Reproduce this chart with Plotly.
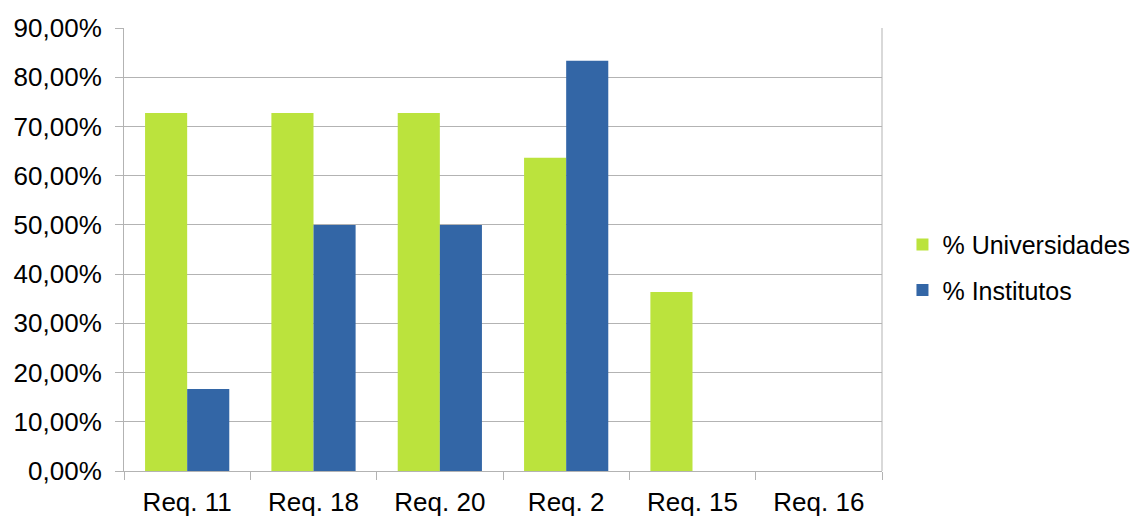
import plotly.graph_objects as go

categories = ["Req. 11", "Req. 18", "Req. 20", "Req. 2", "Req. 15", "Req. 16"]
universidades = [0.7273, 0.7273, 0.7273, 0.6364, 0.3636, 0.0]
institutos = [0.1667, 0.50, 0.50, 0.8333, 0.0, 0.0]

FONT = dict(family="Liberation Sans, Arial, sans-serif", size=26, color="#000000")
LEGFONT = dict(family="Liberation Sans, Arial, sans-serif", size=25, color="#000000")

fig = go.Figure()
fig.add_trace(go.Bar(x=categories, y=universidades, name="% Universidades",
                     legendgroup="u",
                     marker=dict(color="#BBE33D", line=dict(width=0))))
fig.add_trace(go.Bar(x=categories, y=institutos, name="% Institutos",
                     legendgroup="i",
                     marker=dict(color="#3366A6", line=dict(width=0))))

fig.update_layout(
    width=1146, height=517,
    margin=dict(l=124, r=264, t=28, b=46, autoexpand=False),
    paper_bgcolor="white", plot_bgcolor="white",
    barmode="group", bargap=1/3, bargroupgap=0,
    separators=",.",
    font=FONT,
    showlegend=True,
    legend=dict(x=1.027, y=0.46, xanchor="left", yanchor="middle",
                font=LEGFONT, bgcolor="rgba(0,0,0,0)", tracegroupgap=10,
                itemwidth=30),
)
fig.update_yaxes(range=[0, 0.9], dtick=0.1, tickformat=".2%",
                 showgrid=True, gridcolor="#B3B3B3", gridwidth=1,
                 showline=True, linecolor="#B3B3B3", linewidth=1,
                 ticks="outside", ticklen=8, tickcolor="#B3B3B3",
                 ticklabelstandoff=8,
                 zeroline=False, tickfont=FONT)
fig.update_xaxes(showline=True, linecolor="#B3B3B3", linewidth=1,
                 ticks="outside", ticklen=8, tickcolor="#B3B3B3",
                 tickson="boundaries", tickfont=FONT, mirror=False,
                 ticklabelstandoff=8)
fig.add_shape(type="line", xref="paper", yref="paper", x0=1, x1=1, y0=0, y1=1,
              line=dict(color="#B3B3B3", width=1))

fig.write_html("out.html")
